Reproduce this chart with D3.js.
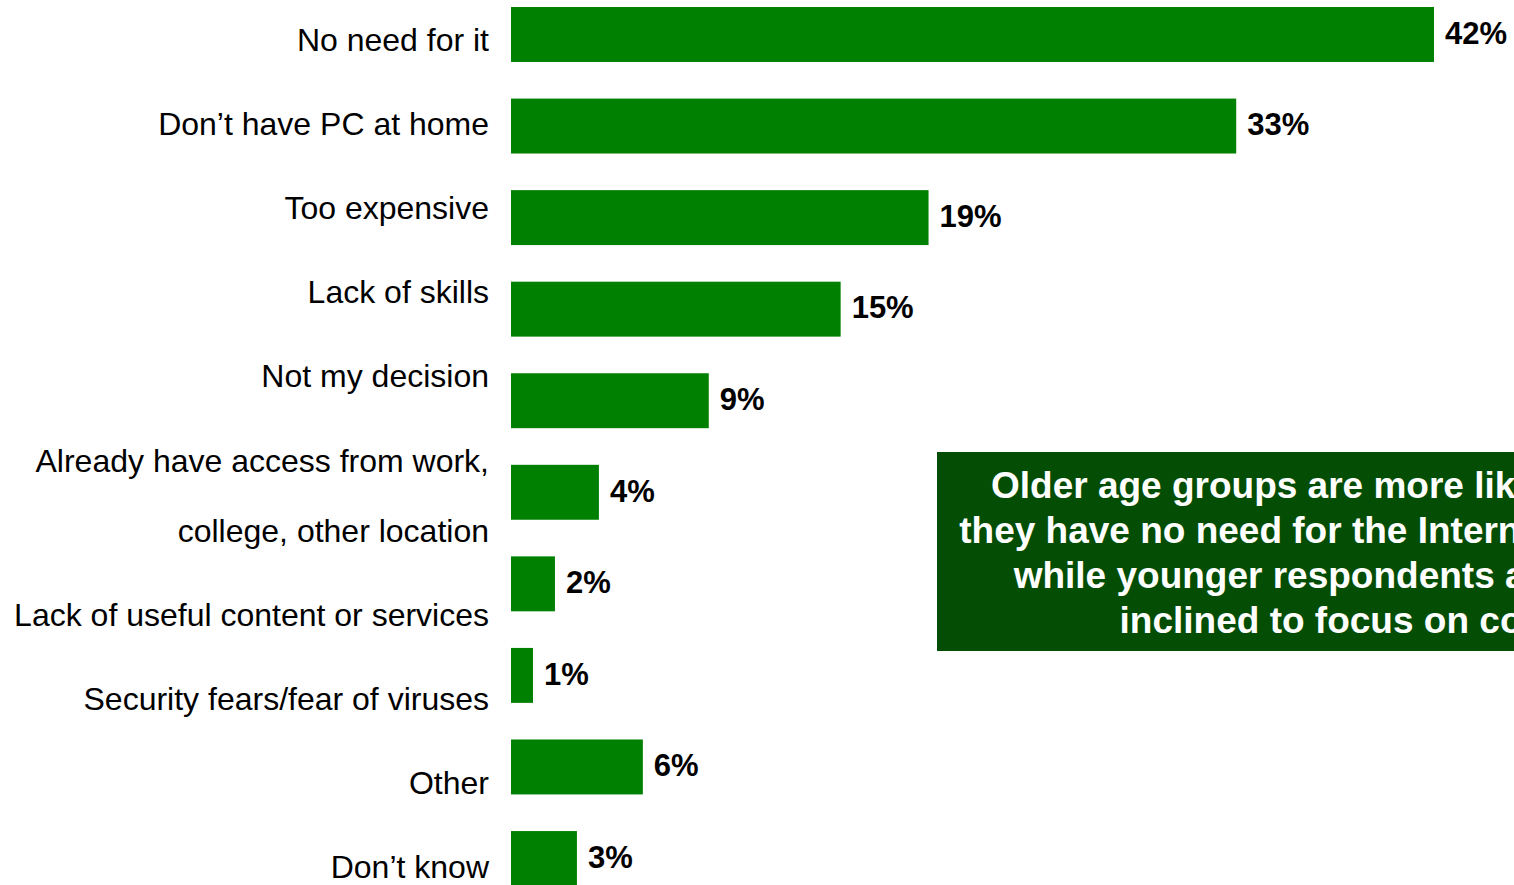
<!DOCTYPE html>
<html>
<head>
<meta charset="utf-8">
<script src="https://cdn.jsdelivr.net/npm/d3@7/dist/d3.min.js"></script>
<style>
  html, body { margin: 0; padding: 0; background: #ffffff; overflow: hidden; }
  svg { display: block; font-family: Arial, "Liberation Sans", sans-serif; }
</style>
</head>
<body>
<svg id="chart" width="1514" height="885"></svg>
<script>
// Reasons for not using the Internet (% of respondents)
const categories = [
  "No need for it",
  "Don\u2019t have PC at home",
  "Too expensive",
  "Lack of skills",
  "Not my decision",
  "Already have access from work, college, other location",
  "Lack of useful content or services",
  "Security fears/fear of viruses",
  "Other",
  "Don\u2019t know"
];
const values = [42, 33, 19, 15, 9, 4, 2, 1, 6, 3];

// Category labels as they are broken into lines
const labelLines = [
  ["No need for it"],
  ["Don\u2019t have PC at home"],
  ["Too expensive"],
  ["Lack of skills"],
  ["Not my decision"],
  ["Already have access from work,", "college, other location"],
  ["Lack of useful content or services"],
  ["Security fears/fear of viruses"],
  ["Other"],
  ["Don\u2019t know"]
];

// Callout text
const calloutLines = [
  "Older age groups are more likely to say",
  "they have no need for the Internet at home,",
  "while younger respondents are more",
  "inclined to focus on cost"
];

const W = 1514, H = 885;
const svg = d3.select("#chart");

const x = d3.scaleLinear().domain([0, 42]).range([511, 1434]);
const y = d3.scaleBand()
  .domain(categories)
  .range([-11.3, 904.3])
  .paddingInner(0.4)
  .paddingOuter(0.2);

// Bars
svg.append("g")
  .selectAll("rect")
  .data(categories)
  .join("rect")
  .attr("x", x(0))
  .attr("y", d => y(d))
  .attr("width", (d, i) => x(values[i]) - x(0))
  .attr("height", y.bandwidth())
  .attr("fill", "#008000");

// Value labels
svg.append("g")
  .selectAll("text")
  .data(categories)
  .join("text")
  .attr("x", (d, i) => x(values[i]) + 11)
  .attr("y", d => y(d) + y.bandwidth() / 2)
  .attr("dy", "0.3em")
  .attr("font-size", 31)
  .attr("font-weight", "bold")
  .attr("fill", "#000")
  .text((d, i) => values[i] + "%");

// Category labels: one paragraph per category, right-aligned
const lineH = 70, paraGap = 14.2, firstBaseline = 50.5;
const lines = [];
let yy = firstBaseline;
labelLines.forEach((para) => {
  para.forEach((t, li) => {
    lines.push({ t, y: yy });
    yy += (li < para.length - 1) ? lineH : lineH + paraGap;
  });
});
svg.append("g")
  .selectAll("text")
  .data(lines)
  .join("text")
  .attr("x", 489)
  .attr("y", d => d.y)
  .attr("text-anchor", "end")
  .attr("font-size", 32)
  .attr("fill", "#000")
  .text(d => d.t);

// Callout box
const box = { x: 937, y: 452, w: 801, h: 199 };
const callout = svg.append("g");
callout.append("rect")
  .attr("x", box.x).attr("y", box.y)
  .attr("width", box.w).attr("height", box.h)
  .attr("fill", "#044d04");
callout.selectAll("text")
  .data(calloutLines)
  .join("text")
  .attr("x", box.x + box.w / 2)
  .attr("y", (d, i) => 498 + i * 45)
  .attr("text-anchor", "middle")
  .attr("font-size", 37)
  .attr("font-weight", "bold")
  .attr("fill", "#ffffff")
  .text(d => d);
</script>
</body>
</html>
